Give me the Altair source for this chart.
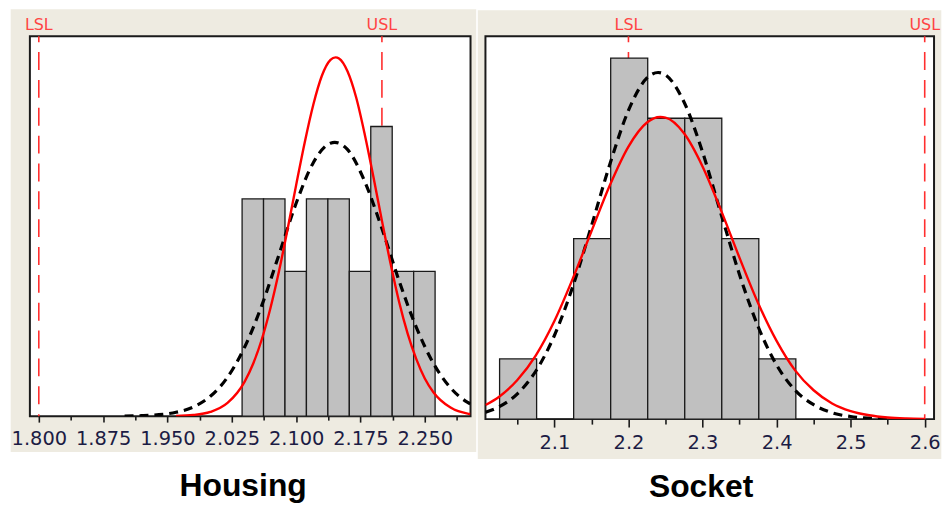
import altair as alt
import pandas as pd

# ---------------- Housing (left panel) ----------------
housing_bin_start = [2.037, 2.062, 2.087, 2.112, 2.137, 2.162, 2.187, 2.212, 2.237]
housing_bin_end = [2.062, 2.087, 2.112, 2.137, 2.162, 2.187, 2.212, 2.237, 2.262]
housing_counts = [3, 3, 2, 3, 3, 2, 4, 2, 2]

housing_within_x = [1.96, 1.98, 2.00, 2.02, 2.04, 2.05, 2.06, 2.07, 2.08, 2.09, 2.10, 2.11,
                    2.12, 2.13, 2.14, 2.146, 2.15, 2.16, 2.17, 2.18, 2.19, 2.20, 2.21, 2.22,
                    2.23, 2.24, 2.25, 2.26, 2.28, 2.30, 2.303]
housing_within_y = [0.004, 0.016, 0.058, 0.182, 0.477, 0.727, 1.062, 1.49, 2.00, 2.58, 3.19, 3.78,
                    4.30, 4.70, 4.92, 4.955, 4.94, 4.76, 4.40, 3.89, 3.31, 2.70, 2.11, 1.58,
                    1.14, 0.79, 0.52, 0.33, 0.118, 0.035, 0.03]

housing_overall_x = [1.90, 1.92, 1.94, 1.96, 1.98, 2.00, 2.02, 2.04, 2.06, 2.08, 2.10, 2.12,
                     2.14, 2.145, 2.16, 2.18, 2.20, 2.22, 2.24, 2.26, 2.28, 2.30, 2.303]
housing_overall_y = [0.002, 0.007, 0.020, 0.053, 0.126, 0.274, 0.538, 0.955, 1.53, 2.23, 2.94, 3.50,
                     3.77, 3.78, 3.68, 3.24, 2.59, 1.87, 1.23, 0.73, 0.39, 0.19, 0.17]

housing_spec_labels = ["LSL", "USL"]
housing_spec_values = [1.800, 2.200]
housing_ticks = [1.8, 1.8375, 1.875, 1.9125, 1.95, 1.9875, 2.025, 2.0625, 2.1, 2.1375,
                 2.175, 2.2125, 2.25, 2.2875]
housing_domain = [1.7896, 2.3033]
housing_ymax = 5.247

# ---------------- Socket (right panel) ----------------
socket_bin_start = [2.026, 2.076, 2.126, 2.176, 2.226, 2.276, 2.326, 2.376]
socket_bin_end = [2.076, 2.126, 2.176, 2.226, 2.276, 2.326, 2.376, 2.426]
socket_counts = [1, 0, 3, 6, 5, 5, 3, 1]

socket_within_x = [2.007, 2.025, 2.05, 2.075, 2.10, 2.125, 2.15, 2.175, 2.20, 2.225, 2.243, 2.25,
                   2.275, 2.30, 2.325, 2.35, 2.375, 2.40, 2.425, 2.45, 2.475, 2.50, 2.525, 2.55,
                   2.575, 2.60]
socket_within_y = [0.235, 0.369, 0.65, 1.06, 1.63, 2.34, 3.12, 3.89, 4.53, 4.93, 5.02, 5.01,
                   4.75, 4.20, 3.47, 2.68, 1.93, 1.30, 0.81, 0.48, 0.26, 0.133, 0.064, 0.028,
                   0.012, 0.005]

socket_overall_x = [2.007, 2.025, 2.05, 2.075, 2.10, 2.125, 2.15, 2.175, 2.20, 2.225, 2.24, 2.25,
                    2.275, 2.30, 2.325, 2.35, 2.375, 2.40, 2.425, 2.45, 2.475, 2.50, 2.525, 2.55]
socket_overall_y = [0.113, 0.203, 0.42, 0.80, 1.39, 2.21, 3.21, 4.24, 5.13, 5.67, 5.76, 5.72,
                    5.27, 4.44, 3.41, 2.40, 1.54, 0.90, 0.48, 0.24, 0.106, 0.043, 0.016, 0.005]

socket_spec_labels = ["LSL", "USL"]
socket_spec_values = [2.2, 2.6]
socket_ticks = [2.05, 2.1, 2.15, 2.2, 2.25, 2.3, 2.35, 2.4, 2.45, 2.5, 2.55, 2.6]
socket_domain = [2.0069, 2.6126]
socket_ymax = 6.364

BEIGE = "#EEEBE1"
SPEC_RED = "#ff2f2f"
LABEL_COLOR = "#1c1c44"


def panel(bin_start, bin_end, counts, wx, wy, ox, oy, spec_labels, spec_values,
          ticks, domain, ymax, major_test, fmt, pw, ph, beige_box, title, title_xy,
          major_size, minor_size, label_pad):
    one = pd.DataFrame({"a": [0]})
    xs = alt.Scale(domain=domain, nice=False, zero=False)
    ys = alt.Scale(domain=[0, ymax], nice=False, zero=True)
    axis = alt.Axis(
        values=ticks,
        labelExpr=f"({major_test}) ? format(datum.value, '{fmt}') : ''",
        tickSize={"condition": {"test": major_test, "value": major_size}, "value": minor_size},
        tickColor="#1a1a1a", tickWidth=1.6, domain=False, grid=False,
        labelFont="DejaVu Sans", labelFontSize=19.5, labelColor=LABEL_COLOR,
        labelPadding=label_pad, labelFlush=False, labelOverlap=False,
        title=None, zindex=1,
    )

    bx0, bx1, by0, by1 = beige_box
    beige = alt.Chart(one).mark_rect(color=BEIGE).encode(
        x=alt.value(bx0), x2=alt.value(bx1), y=alt.value(by0), y2=alt.value(by1)
    )
    frame = alt.Chart(one).mark_rect(fill="white", stroke="#1a1a1a", strokeWidth=2).encode(
        x=alt.value(0), x2=alt.value(pw), y=alt.value(0), y2=alt.value(ph)
    )

    spec_df = pd.DataFrame({"label": spec_labels, "x": spec_values})
    spec_lines = alt.Chart(spec_df).mark_rule(
        color=SPEC_RED, strokeWidth=1.6, strokeDash=[18, 10], strokeDashOffset=12
    ).encode(
        x=alt.X("x:Q", scale=xs, axis=axis), y=alt.value(0), y2=alt.value(ph)
    )
    spec_text = alt.Chart(spec_df).mark_text(
        color="#ff4444", font="DejaVu Sans", fontSize=16, baseline="alphabetic", align="center"
    ).encode(
        x=alt.X("x:Q", scale=xs, axis=axis), y=alt.value(-6), text="label:N"
    )

    bars_df = pd.DataFrame({"start": bin_start, "end": bin_end, "count": counts,
                            "zero": [0] * len(counts)})
    bars = alt.Chart(bars_df).mark_rect(fill="#C0C0C0", stroke="#1a1a1a", strokeWidth=1.3).encode(
        x=alt.X("start:Q", scale=xs, axis=axis),
        x2="end:Q",
        y=alt.Y("count:Q", scale=ys, axis=None),
        y2="zero:Q",
    )

    within = alt.Chart(pd.DataFrame({"x": wx, "y": wy})).mark_line(
        color="#ff0000", strokeWidth=2.4, interpolate="monotone", clip=True
    ).encode(
        x=alt.X("x:Q", scale=xs, axis=axis), y=alt.Y("y:Q", scale=ys, axis=None)
    )
    overall = alt.Chart(pd.DataFrame({"x": ox, "y": oy})).mark_line(
        color="black", strokeWidth=3.2, strokeDash=[9, 6], interpolate="monotone", clip=True
    ).encode(
        x=alt.X("x:Q", scale=xs, axis=axis), y=alt.Y("y:Q", scale=ys, axis=None)
    )

    tx, ty = title_xy
    title_mark = alt.Chart(one).mark_text(
        text=title, font="Liberation Sans", fontSize=32, fontWeight="bold",
        color="black", align="center", baseline="alphabetic"
    ).encode(x=alt.value(tx), y=alt.value(ty))

    return alt.layer(beige, frame, spec_lines, bars, overall, within, spec_text, title_mark).properties(
        width=pw, height=ph
    )


left = panel(housing_bin_start, housing_bin_end, housing_counts,
             housing_within_x, housing_within_y, housing_overall_x, housing_overall_y,
             housing_spec_labels, housing_spec_values, housing_ticks, housing_domain, housing_ymax,
             "abs(datum.value*40/3 - round(datum.value*40/3)) < 0.01", ".3f",
             443, 382, (-19.3, 448.7, -27, 418), "Housing", (214.4, 462.7), 6, 4, 8)

right = panel(socket_bin_start, socket_bin_end, socket_counts,
              socket_within_x, socket_within_y, socket_overall_x, socket_overall_y,
              socket_spec_labels, socket_spec_values, socket_ticks, socket_domain, socket_ymax,
              "abs(datum.value*10 - round(datum.value*10)) < 0.01", ".1f",
              451, 385, (-7.7, 458.3, -26, 425), "Socket", (216.8, 463.7), 8, 5, 7)

chart = alt.hconcat(left, right, spacing=1).properties(
    padding={"left": 2, "top": 0, "right": 0, "bottom": 0},
    background="white",
).configure_view(stroke=None)

chart.save("out.html", embed_options={"renderer": "svg", "actions": False})
